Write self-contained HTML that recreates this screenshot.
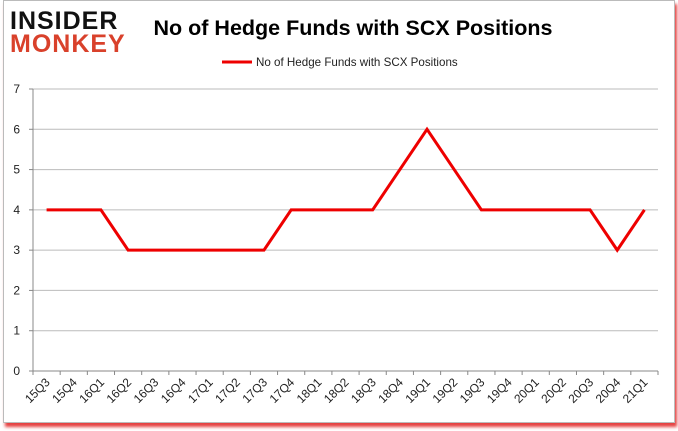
<!DOCTYPE html>
<html><head><meta charset="utf-8"><style>
body{margin:0;background:#fff;font-family:"Liberation Sans",Arial,sans-serif}
#wrap{position:relative;width:678px;height:431px;overflow:hidden}
#frame{position:absolute;left:3px;top:0;width:670px;height:421px;border:1px solid #bbb;box-shadow:2px 4px 3px rgba(220,0,0,0.75);background:#fff}
</style></head><body>
<div id="wrap">
<div id="frame"></div>
<svg id="chart" width="678" height="431" style="position:absolute;left:0;top:0">
<text x="10" y="29" font-size="25" font-weight="900" fill="#111" letter-spacing="1">INSIDER</text>
<text x="10" y="52" font-size="25" font-weight="900" fill="#d9412b" letter-spacing="1">MONKEY</text>
<text x="353" y="35" font-size="21.5" font-weight="bold" text-anchor="middle" fill="#000">No of Hedge Funds with SCX Positions</text>
<line x1="222" y1="62" x2="252" y2="62" stroke="#e00" stroke-width="3"/>
<text x="256" y="66" font-size="11.6" fill="#222">No of Hedge Funds with SCX Positions</text>
<g id="grid"></g><g id="ticks"></g><g id="series"></g>
</svg>
</div>
<script>
const categories=["15Q3","15Q4","16Q1","16Q2","16Q3","16Q4","17Q1","17Q2","17Q3","17Q4","18Q1","18Q2","18Q3","18Q4","19Q1","19Q2","19Q3","19Q4","20Q1","20Q2","20Q3","20Q4","21Q1"];
const values=[4,4,4,3,3,3,3,3,3,4,4,4,4,5,6,5,4,4,4,4,4,3,4];
const yTicks=[0,1,2,3,4,5,6,7];
const NS="http://www.w3.org/2000/svg";
const L=33,R=658,T=89,B=371,yMax=7;
const bw=(R-L)/categories.length;
function xs(i){return L+bw*(i+0.5);}
function ys(v){return B-(B-T)*v/yMax;}
function mk(tag,attrs,parent){const e=document.createElementNS(NS,tag);for(const k in attrs)e.setAttribute(k,attrs[k]);parent.appendChild(e);return e;}
const grid=document.getElementById('grid'),ticks=document.getElementById('ticks'),series=document.getElementById('series');
yTicks.forEach(v=>{
 const g=mk('line',{x1:L,x2:R,y1:ys(v),y2:ys(v),stroke:v===0?'#888':'#bbb','stroke-width':1},grid);
 
 
 const tk=mk('line',{x1:L-4,x2:L,y1:ys(v),y2:ys(v),stroke:'#888'},ticks);
 
 
 const t=mk('text',{x:L-13,y:ys(v)+4,'font-size':12,'text-anchor':'end',fill:'#222'},ticks);
 t.textContent=v;
 
 
});
const ax=mk('line',{x1:L,x2:L,y1:T,y2:B,stroke:'#888'},grid);


for(let i=0;i<=categories.length;i++){
 const tk=mk('line',{x1:L+bw*i,x2:L+bw*i,y1:B,y2:B+4,stroke:'#888'},ticks);
 
 
}
categories.forEach((c,i)=>{
 const x=xs(i)+4,y=B+12;
 const t=mk('text',{x:x,y:y,'font-size':12,'text-anchor':'end',fill:'#222',transform:`rotate(-45 ${x} ${y})`},ticks);
 t.textContent=c;
 
 
});
const p=mk('polyline',{points:values.map((v,i)=>xs(i)+','+ys(v)).join(' '),fill:'none',stroke:'#e00','stroke-width':3,'stroke-linejoin':'miter'},series);


</script>
</body></html>
